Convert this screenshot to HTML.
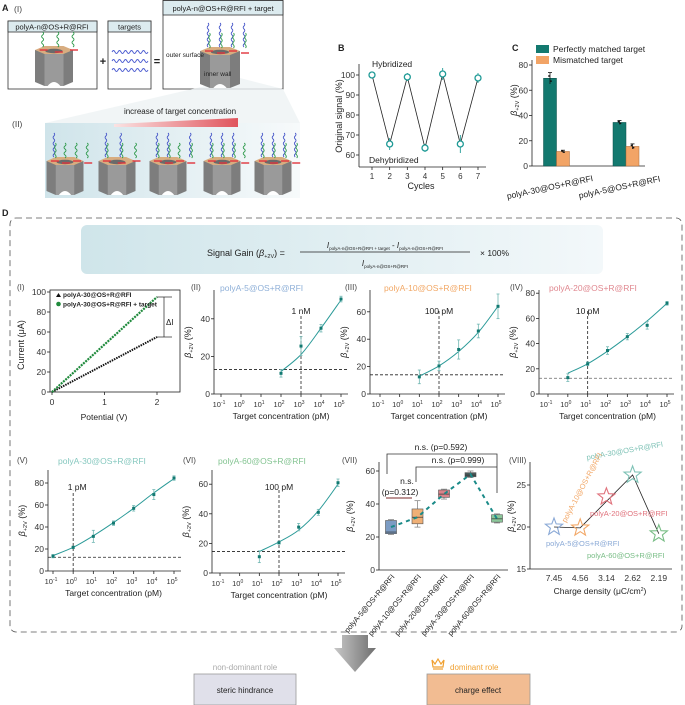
<!DOCTYPE html>
<html><head><meta charset="utf-8"><style>
html,body{margin:0;padding:0;background:#fff}
svg{display:block;font-family:"Liberation Sans",Arial,sans-serif}
</style></head><body>
<svg id="fig" xmlns="http://www.w3.org/2000/svg" width="685" height="705" viewBox="0 0 685 705">
<defs>
<linearGradient id="bandG" x1="0" x2="1" y1="0" y2="0"><stop offset="0" stop-color="#cfe4ea"/><stop offset="1" stop-color="#f7fafb"/></linearGradient>
<linearGradient id="redG" x1="0" x2="1"><stop offset="0" stop-color="#fbe3e3"/><stop offset="1" stop-color="#e0545c"/></linearGradient>
<linearGradient id="formG" x1="0" x2="1"><stop offset="0" stop-color="#cfe5ea"/><stop offset="1" stop-color="#f3f8fa"/></linearGradient>
<linearGradient id="arrG" x1="0" x2="1"><stop offset="0" stop-color="#bfbfbf"/><stop offset="1" stop-color="#555"/></linearGradient>
</defs>
<rect width="685" height="705" fill="#fff"/>
<g id="root"></g>
</svg>
<script>
// ---------- data ----------
const cyclesB = [1,2,3,4,5,6,7];
const signalB = [100,65.5,99,63.5,100.5,65.5,98.5];
const signalErrB = [0.5,3,2,2,3,4.5,2.5];
const catsC = ["polyA-30@OS+R@RFI","polyA-5@OS+R@RFI"];
const matchedC = [69.5,34.5];
const matchedErrC = [4.5,1.5];
const mismatchC = [11.5,15.5];
const mismatchErrC = [1,2];
const potentialI = [0,2];
const currentBare = [0,55];
const currentTarget = [0,95];
const xsII=[2,3,4,5], ysII=[11,25.5,35,50.5], esII=[2,5,2,1.5], fitII=[12,21,35,50];
const xsIII=[1,2,3,4,5], ysIII=[12.5,20.5,32.5,46,64], esIII=[5,3.5,7,5,9], fitIII=[13,20.5,31,45,64];
const xsIV=[0,1,2,3,4,5], ysIV=[13,24,34.5,45.5,54.5,72], esIV=[3,1.5,3,2.5,3,1.5], fitIV=[16.5,24,34,45.5,58,72];
const xsV=[-1,0,1,2,3,4,5], ysV=[13.5,21.5,31.5,43.5,57,69.5,84.5], esV=[1.5,1,5.5,2,2.5,4.5,2], fitV=[14,21.5,32,44,57,71,84];
const xsVI=[1,2,3,4,5], ysVI=[11,20.5,31,41,61], esVI=[4,1,2.5,2,2.5], fitVI=[14.5,21,29,42,60];
const logTicks=[-1,0,1,2,3,4,5];
const catsVII=["polyA-5@OS+R@RFI","polyA-10@OS+R@RFI","polyA-20@OS+R@RFI","polyA-30@OS+R@RFI","polyA-60@OS+R@RFI"];
const q1VII=[22,28,44,56.5,29], q3VII=[30,37,48.5,59,33.5], medVII=[23,32,46,57.5,31], minVII=[21.5,26,43,56,28.5], maxVII=[30.5,42,49,60,34], meanVII=[26,32,46,58,31];
const catsVIII=["7.45","4.56","3.14","2.62","2.19"];
const valVIII=[20,19.9,23.6,26.2,19.2];
const colorsVII=["#7c9cc4","#f0b076","#d9838a","#4a5a5a","#8cc79a"];
const starColors=["#8aa9d6","#f2a766","#e0727c","#7ec2b6","#79bd86"];

const NS="http://www.w3.org/2000/svg";
const root=document.getElementById('root');
function el(tag,attrs,parent){const e=document.createElementNS(NS,tag);for(const k in attrs)e.setAttribute(k,attrs[k]);(parent||root).appendChild(e);return e;}
function txt(x,y,s,size,opts,parent){opts=opts||{};const t=el('text',{x:x,y:y,'font-size':size,fill:opts.fill||'#222','text-anchor':opts.anchor||'start'},parent);if(opts.weight)t.setAttribute('font-weight',opts.weight);if(opts.rot)t.setAttribute('transform','rotate('+opts.rot+' '+x+' '+y+')');if(opts.style)t.setAttribute('font-style',opts.style);t.textContent=s;return t;}
function line(x1,y1,x2,y2,st,w,dash,parent){const l=el('line',{x1:x1,y1:y1,x2:x2,y2:y2,stroke:st||'#222','stroke-width':w||0.8},parent);if(dash)l.setAttribute('stroke-dasharray',dash);return l;}
function smooth(pts){let d='M'+pts[0][0]+','+pts[0][1];for(let i=0;i<pts.length-1;i++){const p0=pts[i-1]||pts[i],p1=pts[i],p2=pts[i+1],p3=pts[i+2]||p2;const c1=[p1[0]+(p2[0]-p0[0])/6,p1[1]+(p2[1]-p0[1])/6],c2=[p2[0]-(p3[0]-p1[0])/6,p2[1]-(p3[1]-p1[1])/6];d+=' C'+c1+' '+c2+' '+p2;}return d;}
function betaLabel(x,y,parent){const t=el('text',{x:x,y:y,'font-size':9,fill:'#222','text-anchor':'middle',transform:'rotate(-90 '+x+' '+y+')'},parent);
 const a=el('tspan',{'font-style':'italic'},t);a.textContent='β';const b=el('tspan',{'font-size':5.5,dy:2},t);b.textContent='+2V';const c=el('tspan',{dy:-2},t);c.textContent=' (%)';return t;}

// ---------- Panel A ----------
const gA=el('g',{});


txt(2,11,'A',9,{weight:'bold'},gA);
txt(14,12,'(I)',8.5,{fill:'#444'},gA);
function wave(x,y,h,color,parent,amp){let d='M'+x+','+y;for(let i=0;i<h;i+=3){d+=' q'+(amp||2)+',1.5 0,3';amp=-(amp||2);}el('path',{d:d,fill:'none',stroke:color,'stroke-width':0.9},parent);}
function cyl(cx,top,bot,w,strands,parent){
 const g=el('g',{},parent);
 const hw=w/2;
 el('polygon',{points:[[cx-hw,top+4],[cx-hw,bot-4],[cx-hw/2,bot],[cx+hw/2,bot],[cx+hw,bot-4],[cx+hw,top+4]].join(' '),fill:'#7d7d7d'},g);
 el('polygon',{points:[[cx-hw/2,top+8],[cx-hw/2,bot],[cx+hw/2,bot],[cx+hw/2,top+8]].join(' '),fill:'#9a9a9a'},g);
 el('path',{d:'M'+(cx-hw/3)+','+bot+' q'+(hw/3)+',-8 '+(hw*2/3)+',0 z',fill:'#fff'},g);
 el('polygon',{points:[[cx-hw,top+4],[cx-hw/2,top],[cx+hw/2,top],[cx+hw,top+4],[cx+hw/2,top+8],[cx-hw/2,top+8]].join(' '),fill:'#d8ad80'},g);
 el('ellipse',{cx:cx,cy:top+5,rx:hw/2.2,ry:2.2,fill:'#6a6a6a'},g);
 for(let i=0;i<strands.length;i++){const sx=cx-hw*0.6+i*(w*1.2/ (strands.length)),s=strands[i];
  line(sx-3,top+4+(i%2)*2,sx+5,top+4+(i%2)*2,'#e0343c',1.4,null,g);
  if(s==='g'){wave(sx,top-14,14,'#2f9a4c',g,2);}
  else{wave(sx,top-24,22,'#4555c8',g,1.6);wave(sx+1.5,top-14,13,'#2f9a4c',g,1.4);}
 }
 return g;}
// boxes
const b1=el('rect',{x:8,y:21,width:89,height:68,fill:'#fff',stroke:'#333','stroke-width':0.8},gA);


el('rect',{x:8,y:21,width:89,height:11,fill:'#dcebef',stroke:'#333','stroke-width':0.8},gA);
txt(52,29.5,'polyA-n@OS+R@RFI',7.5,{anchor:'middle'},gA);
cyl(54,46,86,38,['g','g','g'],gA);
el('rect',{x:108,y:21,width:43,height:68,fill:'#fff',stroke:'#333','stroke-width':0.8},gA);
el('rect',{x:108,y:21,width:43,height:11,fill:'#dcebef',stroke:'#333','stroke-width':0.8},gA);
txt(129.5,29.5,'targets',7.5,{anchor:'middle'},gA);
for(const yy of [52,61,70]){let d='M112,'+yy;for(let i=0;i<6;i++)d+=' q1.5,-3 3,0 q1.5,3 3,0';el('path',{d:d,fill:'none',stroke:'#4a5ad0','stroke-width':0.9},gA);}
txt(103,65,'+',11,{anchor:'middle',weight:'bold'},gA);
txt(157,65,'=',11,{anchor:'middle',weight:'bold'},gA);
el('rect',{x:163,y:0.5,width:120,height:88.5,fill:'#fff',stroke:'#333','stroke-width':0.8},gA);
el('rect',{x:163,y:0.5,width:120,height:14.5,fill:'#dcebef',stroke:'#333','stroke-width':0.8},gA);
txt(223,11,'polyA-n@OS+R@RFI + target',7.5,{anchor:'middle'},gA);
// band
el('polygon',{points:'45,123 240,78 283,89 300,123 300,198 45,198',fill:'#eef3f4',opacity:0.8},gA);
el('rect',{x:45,y:123,width:255,height:75,fill:'url(#bandG)'},gA);
cyl(220,47,88,40,['b','b','b','b'],gA);
txt(166,57,'outer surface',6.5,{},gA);
txt(204,76,'inner wall',6.5,{},gA);
txt(12,127,'(II)',8.5,{fill:'#444'},gA);
txt(180,114,'increase of target concentration',8,{anchor:'middle'},gA);
el('polygon',{points:'114,124 238,118 238,127 114,127',fill:'url(#redG)'},gA);
const cx5=[65,117,168,222,273],strs=[['b','g','g','g'],['b','b','g'],['b','b','g','b'],['b','b','b','g'],['b','b','b','b']];
for(let i=0;i<5;i++)cyl(cx5[i],157,195,37,strs[i],gA);

// ---------- Panel B ----------
const gB=el('g',{});


txt(338,51,'B',9,{weight:'bold'},gB);
const xB=c=>372+(c-1)*(478-372)/6, yB=v=>75+(100-v)*2;
line(359,64,359,167,'#222',0.8,null,gB);line(359,167,486,167,'#222',0.8,null,gB);
for(const v of [60,70,80,90,100]){line(356,yB(v),359,yB(v),'#222',0.8,null,gB);txt(355,yB(v)+3,String(v),8.5,{anchor:'end',fill:'#333'},gB);}
for(const c of cyclesB){line(xB(c),167,xB(c),170,'#222',0.8,null,gB);txt(xB(c),179,String(c),8,{anchor:'middle',fill:'#333'},gB);}
txt(421,189,'Cycles',9,{anchor:'middle'},gB);
txt(342,116,'Original signal (%)',9,{anchor:'middle',rot:-90},gB);
txt(372,67,'Hybridized',8.5,{},gB);
txt(369,163,'Dehybridized',8.5,{},gB);
el('polyline',{points:cyclesB.map((c,i)=>xB(c)+','+yB(signalB[i])).join(' '),fill:'none',stroke:'#222','stroke-width':0.8},gB);
cyclesB.forEach((c,i)=>{
 const eb=line(xB(c),yB(signalB[i]+signalErrB[i]),xB(c),yB(signalB[i]-signalErrB[i]),'#1f9a96',0.9,null,gB);
 
 
 const m=el('circle',{cx:xB(c),cy:yB(signalB[i]),r:3,fill:'#fff',stroke:'#1f9a96','stroke-width':1.3},gB);
 
 
});

// ---------- Panel C ----------
const gC=el('g',{});


txt(512,51,'C',9,{weight:'bold'},gC);
const yC=v=>166-v*(166-65)/80;
const xC=[556.5,626];
line(532,60,532,166,'#222',0.8,null,gC);line(532,166,645,166,'#222',0.8,null,gC);
for(const v of [0,20,40,60,80]){line(529,yC(v),532,yC(v),'#222',0.8,null,gC);txt(528,yC(v)+3,String(v),8.5,{anchor:'end',fill:'#333'},gC);}
betaLabel(517,100,gC);
catsC.forEach((c,i)=>{
 const g1=el('rect',{x:xC[i]-13,y:yC(matchedC[i]),width:13,height:166-yC(matchedC[i]),fill:'#13796f',stroke:'#0d4f48','stroke-width':0.5},gC);
 
 
 const o1=el('rect',{x:xC[i],y:yC(mismatchC[i]),width:13,height:166-yC(mismatchC[i]),fill:'#f2a466',stroke:'#a86a3a','stroke-width':0.5},gC);
 
 
 for(const [v,e,x] of [[matchedC[i],matchedErrC[i],xC[i]-6.5],[mismatchC[i],mismatchErrC[i],xC[i]+6.5]]){
  line(x,yC(v+e),x,yC(v-e),'#111',0.8,null,gC);line(x-2,yC(v+e),x+2,yC(v+e),'#111',0.8,null,gC);
  el('circle',{cx:x-1,cy:yC(v+e*0.4),r:0.9,fill:'#111'},gC);el('circle',{cx:x+1,cy:yC(v-e*0.5),r:0.9,fill:'#111'},gC);
 }
 txt(xC[i]-6,190-i*0,c,8.5,{anchor:'middle',rot:-12},gC);
});
el('rect',{x:536,y:45,width:13,height:8,fill:'#13796f'},gC);
txt(553,52,'Perfectly matched target',8.5,{},gC);
el('rect',{x:536,y:56,width:13,height:8,fill:'#f2a466'},gC);
txt(553,63,'Mismatched target',8.5,{},gC);

// ---------- Panel D ----------
const gD=el('g',{});


txt(2,216,'D',9,{weight:'bold'},gD);
el('rect',{x:10,y:218,width:672,height:414,rx:6,fill:'none',stroke:'#555','stroke-width':0.8,'stroke-dasharray':'6,4'},gD);
const fb=el('rect',{x:81,y:225,width:522,height:49,rx:6,fill:'url(#formG)'},gD);


const ft=el('text',{x:207,y:256,'font-size':9,fill:'#222'},gD);
{const a=el('tspan',{},ft);a.textContent='Signal Gain (';const b=el('tspan',{'font-style':'italic'},ft);b.textContent='β';const c=el('tspan',{'font-size':5.5,dy:2},ft);c.textContent='+2V';const d=el('tspan',{dy:-2},ft);d.textContent=')  =';}
line(300,252,470,252,'#222',0.7,null,gD);
const nt=el('text',{x:385,y:248,'font-size':8,fill:'#222','text-anchor':'middle'},gD);
{const a=el('tspan',{'font-style':'italic'},nt);a.textContent='I';const b=el('tspan',{'font-size':4.5,dy:2},nt);b.textContent='polyA-n@OS+R@RFI + target';const c=el('tspan',{dy:-2},nt);c.textContent=' - ';const d=el('tspan',{'font-style':'italic'},nt);d.textContent='I';const e=el('tspan',{'font-size':4.5,dy:2},nt);e.textContent='polyA-n@OS+R@RFI';}
const dt=el('text',{x:385,y:266,'font-size':8,fill:'#222','text-anchor':'middle'},gD);
{const a=el('tspan',{'font-style':'italic'},dt);a.textContent='I';const b=el('tspan',{'font-size':4.5,dy:2},dt);b.textContent='polyA-n@OS+R@RFI';}
txt(480,256,'× 100%',8.5,{},gD);

// ---------- D(I) ----------
const gI=el('g',{});


txt(17,290,'(I)',8,{fill:'#444'},gI);
const xI=v=>52+v*(157-52)/2, yI=v=>392-v;
el('rect',{x:50,y:290,width:130,height:102,fill:'none',stroke:'#222','stroke-width':0.8},gI);
for(const v of [0,20,40,60,80,100]){line(47,yI(v),50,yI(v),'#222',0.8,null,gI);txt(46,yI(v)+3,String(v),8.5,{anchor:'end',fill:'#333'},gI);}
for(const v of [0,1,2]){line(xI(v),392,xI(v),395,'#222',0.8,null,gI);txt(xI(v),405,String(v),8.5,{anchor:'middle',fill:'#333'},gI);}
txt(104,420,'Potential (V)',8.5,{anchor:'middle'},gI);
txt(24,345,'Current (μA)',9,{anchor:'middle',rot:-90},gI);
const lb=line(xI(potentialI[0]),yI(currentBare[0]),xI(potentialI[1]),yI(currentBare[1]),'#111',2,'1.5,1',gI);


const lt=line(xI(potentialI[0]),yI(currentTarget[0]),xI(potentialI[1]),yI(currentTarget[1]),'#1f8a3c',2.2,'2,1',gI);


line(157,yI(95),172,yI(95),'#222',0.7,null,gI);line(157,yI(55),172,yI(55),'#222',0.7,null,gI);line(164,yI(95),164,yI(55),'#222',0.7,null,gI);
txt(166,325,'ΔI',8,{},gI);
el('polygon',{points:'56,297 58.5,293 61,297',fill:'#111'},gI);
txt(63,297,'polyA-30@OS+R@RFI',6.5,{weight:'bold'},gI);
el('circle',{cx:58.5,cy:304,r:2.3,fill:'#1f8a3c'},gI);
txt(63,306.5,'polyA-30@OS+R@RFI + target',6.5,{weight:'bold'},gI);

// ---------- log panels ----------
function logPanel(p,xs,ys,es,fit){
 const g=el('g',{});
 const X=e=>p.x0+(e+1)*(p.x1-p.x0)/6, Y=v=>p.y0-v*p.k;
 txt(p.lx,p.ly,p.label,8,{fill:'#444'},g);
 txt(p.tx,p.ly+1,p.title,8.5,{fill:p.tcolor},g);
 line(p.ax,p.top,p.ax,p.y0,'#222',0.8,null,g);line(p.ax,p.y0,p.x1+7,p.y0,'#222',0.8,null,g);
 for(const v of p.yticks){line(p.ax-3,Y(v),p.ax,Y(v),'#222',0.8,null,g);txt(p.ax-4,Y(v)+3,String(v),8.5,{anchor:'end',fill:'#333'},g);}
 for(const e of logTicks){line(X(e),p.y0,X(e),p.y0+3,'#222',0.8,null,g);const t=txt(X(e)-2,p.y0+13,'10',7.5,{anchor:'middle',fill:'#333'},g);const s=el('tspan',{dy:-3,'font-size':5},t);s.textContent=String(e);}
 txt((p.x0+p.x1)/2,p.y0+25,'Target concentration (pM)',8.5,{anchor:'middle'},g);
 betaLabel(p.ax-23,(p.top+p.y0)/2,g);
 line(p.ax,Y(p.h),p.x1+7,Y(p.h),p.hcol||'#222',0.8,'3,2',g);
 line(X(p.v),p.y0,X(p.v),Y(p.vtop),'#222',0.8,'3,2',g);
 txt(X(p.v)+p.vdx,p.vly,p.vlabel,8.5,{anchor:'middle'},g);
 const fl=el('path',{d:smooth(xs.map((e,i)=>[X(e),Y(fit[i])])),fill:'none',stroke:'#2a9a98','stroke-width':1},g);
 
 
 xs.forEach((e,i)=>{
  line(X(e),Y(ys[i]+es[i]),X(e),Y(ys[i]-es[i]),'#6fb6b2',0.8,null,g);
  line(X(e)-1.5,Y(ys[i]+es[i]),X(e)+1.5,Y(ys[i]+es[i]),'#6fb6b2',0.8,null,g);
  line(X(e)-1.5,Y(ys[i]-es[i]),X(e)+1.5,Y(ys[i]-es[i]),'#6fb6b2',0.8,null,g);
  const pt=el('rect',{x:X(e)-1.5,y:Y(ys[i])-1.5,width:3,height:3,fill:'#137a72'},g);
  
  
 });
 return g;}
const pII=logPanel({label:'(II)',lx:191,ly:290,title:'polyA-5@OS+R@RFI',tx:220,tcolor:'#8fb0d8',ax:214,x0:221,x1:341,y0:394,k:1.88,top:290,yticks:[0,20,40],h:13,v:3,vtop:42,vlabel:'1 nM',vdx:0,vly:314},xsII,ysII,esII,fitII);


const pIII=logPanel({label:'(III)',lx:345,ly:290,title:'polyA-10@OS+R@RFI',tx:384,tcolor:'#f2a866',ax:370,x0:380,x1:498,y0:394,k:1.37,top:290,yticks:[0,20,40,60],h:14,v:2,vtop:61,vlabel:'100 pM',vdx:0,vly:314},xsIII,ysIII,esIII,fitIII);


const pIV=logPanel({label:'(IV)',lx:510,ly:290,title:'polyA-20@OS+R@RFI',tx:549,tcolor:'#e08890',ax:539,x0:548,x1:667,y0:394,k:1.26,top:290,yticks:[0,20,40,60,80],h:12.5,hcol:'#666',v:1,vtop:66,vlabel:'10 pM',vdx:0,vly:314},xsIV,ysIV,esIV,fitIV);


const pV=logPanel({label:'(V)',lx:17,ly:463,title:'polyA-30@OS+R@RFI',tx:58,tcolor:'#86c8bf',ax:48,x0:53,x1:174,y0:571,k:1.1,top:470,yticks:[0,20,40,60,80],h:12.5,v:0,vtop:73,vlabel:'1 pM',vdx:4,vly:490},xsV,ysV,esV,fitV);


const pVI=logPanel({label:'(VI)',lx:183,ly:463,title:'polyA-60@OS+R@RFI',tx:218,tcolor:'#84c492',ax:212,x0:220,x1:338,y0:573,k:1.48,top:470,yticks:[0,20,40,60],h:14.5,v:2,vtop:57,vlabel:'100 pM',vdx:0,vly:490},xsVI,ysVI,esVI,fitVI);



// ---------- VII box plot ----------
const gVII=el('g',{});


txt(342,463,'(VII)',8,{fill:'#444'},gVII);
const yV7=v=>570-v*1.65, xV7=i=>391+i*26.5;
line(379,462,379,570,'#222',0.8,null,gVII);line(379,570,508,570,'#222',0.8,null,gVII);
for(const v of [0,20,40,60]){line(376,yV7(v),379,yV7(v),'#222',0.8,null,gVII);txt(375,yV7(v)+3,String(v),8.5,{anchor:'end',fill:'#333'},gVII);}
betaLabel(353,516,gVII);
catsVII.forEach((c,i)=>{
 const x=xV7(i);
 line(x,yV7(maxVII[i]),x,yV7(minVII[i]),'#777',0.7,null,gVII);
 line(x-3,yV7(maxVII[i]),x+3,yV7(maxVII[i]),'#777',0.7,null,gVII);line(x-3,yV7(minVII[i]),x+3,yV7(minVII[i]),'#777',0.7,null,gVII);
 const bx=el('rect',{x:x-5.5,y:yV7(q3VII[i]),width:11,height:yV7(q1VII[i])-yV7(q3VII[i]),fill:colorsVII[i],stroke:'#555','stroke-width':0.6},gVII);
 
 
 line(x-5.5,yV7(medVII[i]),x+5.5,yV7(medVII[i]),'#333',0.7,null,gVII);
 txt(x+4,577,c,7.5,{anchor:'end',rot:-50},gVII);
});
const mv=el('polyline',{points:catsVII.map((c,i)=>xV7(i)+','+yV7(meanVII[i])).join(' '),fill:'none',stroke:'#1a8a88','stroke-width':2,'stroke-dasharray':'4,4'},gVII);


el('polyline',{points:'387,474 387,454 497,454 497,493',fill:'none',stroke:'#333','stroke-width':0.8},gVII);
txt(441,450,'n.s. (p=0.592)',8.5,{anchor:'middle'},gVII);
el('polyline',{points:'416,482 416,467 497,467',fill:'none',stroke:'#333','stroke-width':0.8},gVII);
txt(458,463,'n.s. (p=0.999)',8.5,{anchor:'middle'},gVII);
line(386,498,412,498,'#7a2a2a',0.9,null,gVII);
txt(407,484,'n.s.',8.5,{anchor:'middle'},gVII);
txt(400,495,'(p=0.312)',8.5,{anchor:'middle'},gVII);

// ---------- VIII ----------
const gVIII=el('g',{});


txt(509,463,'(VIII)',8,{fill:'#444'},gVIII);
const yV8=v=>527-(v-20)*8.4, xV8=i=>554+i*26.2;
line(530,462,530,569,'#222',0.8,null,gVIII);line(530,569,672,569,'#222',0.8,null,gVIII);
for(const v of [15,20,25]){line(527,yV8(v),530,yV8(v),'#222',0.8,null,gVIII);txt(526,yV8(v)+3,String(v),8.5,{anchor:'end',fill:'#333'},gVIII);}
catsVIII.forEach((c,i)=>txt(xV8(i),581,c,8.5,{anchor:'middle',fill:'#333'},gVIII));
const xl=txt(600,594,'Charge density (μC/cm',8.5,{anchor:'middle'},gVIII);
{const s=el('tspan',{dy:-3,'font-size':5},xl);s.textContent='2';const s2=el('tspan',{dy:3},xl);s2.textContent=')';}
betaLabel(514,516,gVIII);
const path8=[0,1,3,4];
const ln8=el('polyline',{points:path8.map(i=>xV8(i)+','+yV8(valVIII[i])).join(' '),fill:'none',stroke:'#222','stroke-width':0.8},gVIII);


function star(cx,cy,R){let pts=[];for(let k=0;k<10;k++){const r=k%2?R*0.42:R,a=-Math.PI/2+k*Math.PI/5;pts.push((cx+r*Math.cos(a)).toFixed(1)+','+(cy+r*Math.sin(a)).toFixed(1));}return pts.join(' ');}
valVIII.forEach((v,i)=>{
 const s=el('polygon',{points:star(xV8(i),yV8(v),9),fill:'none',stroke:starColors[i],'stroke-width':1.1},gVIII);
 
 
});
txt(587,460,'polyA-30@OS+R@RFI',7.5,{fill:starColors[3],rot:-10},gVIII);
txt(566,523,'polyA-10@OS+R@RFI',7.5,{fill:starColors[1],rot:-62},gVIII);
txt(590,516,'polyA-20@OS+R@RFI',7.5,{fill:starColors[2]},gVIII);
txt(546,546,'polyA-5@OS+R@RFI',7.5,{fill:starColors[0]},gVIII);
txt(587,558,'polyA-60@OS+R@RFI',7.5,{fill:starColors[4]},gVIII);

// ---------- bottom ----------
const gE=el('g',{});


const ar=el('polygon',{points:'342,635 368,635 368,648 376,648 355,672 334,648 342,648',fill:'url(#arrG)',opacity:0.85},gE);


txt(245,670,'non-dominant role',8,{anchor:'middle',fill:'#aaa'},gE);
const sb=el('rect',{x:194,y:674,width:102,height:31,fill:'#e0e0ea',stroke:'#999','stroke-width':0.8},gE);


txt(245,693,'steric hindrance',8,{anchor:'middle'},gE);
el('path',{d:'M432,660 l3,4 l3,-5 l3,5 l3,-4 l-1,7 h-10 z',fill:'none',stroke:'#f0a030','stroke-width':1.2},gE);
line(433,669,443,669,'#f0a030',1.2,null,gE);
txt(450,670,'dominant role',8,{fill:'#f0a030'},gE);
const cb=el('rect',{x:427,y:674,width:103,height:31,fill:'#f2bc92',stroke:'#999','stroke-width':0.8},gE);


txt(478,693,'charge effect',8,{anchor:'middle'},gE);
</script>
</body></html>
